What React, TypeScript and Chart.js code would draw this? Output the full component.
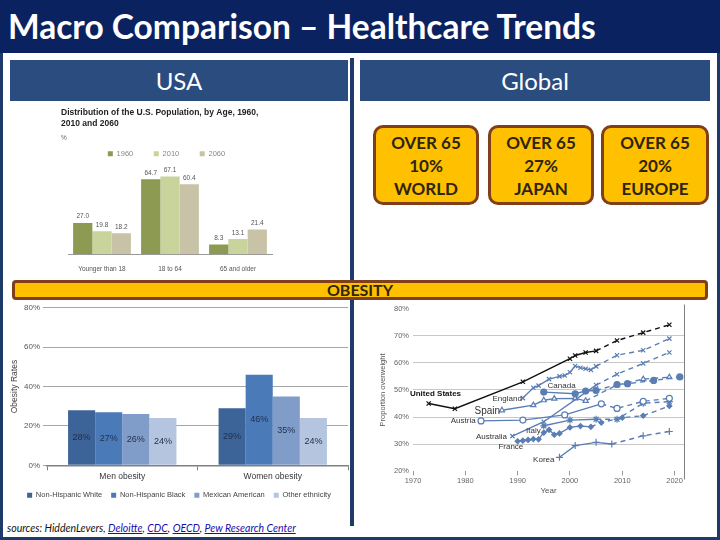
import React, { useEffect, useRef } from 'react';
import { Chart, registerables } from 'chart.js';
Chart.register(...registerables);

// ---------- Population by age (USA) ----------
const popCategories = ['Younger than 18', '18 to 64', '65 and older'];
const popSeriesNames = ['1960', '2010', '2060'];
const pop1960 = [27.0, 64.7, 8.3];
const pop2010 = [19.8, 67.1, 13.1];
const pop2060 = [18.2, 60.4, 21.4];

// ---------- Global boxes ----------
const boxHeads = ['OVER 65', 'OVER 65', 'OVER 65'];
const boxShares = ['10%', '27%', '20%'];
const boxRegions = ['WORLD', 'JAPAN', 'EUROPE'];

// ---------- Obesity by ethnicity (USA) ----------
const obCategories = ['Men obesity', 'Women obesity'];
const obSeriesNames = ['Non-Hispanic White', 'Non-Hispanic Black', 'Mexican American', 'Other ethnicity'];
const obWhite = [28, 29];
const obBlack = [27, 46];
const obMexican = [26, 35];
const obOther = [24, 24];

// ---------- Overweight projections (Global) ----------
const usYears = [1973, 1978, 1991, 2000, 2001, 2003, 2005, 2009, 2014, 2019];
const usValues = [45, 43.1, 53, 61.5, 62.7, 63.8, 64.4, 68.2, 71.1, 74.0];
const englandYears = [1991, 1993, 1994, 1996, 1998, 1999, 2000, 2001, 2002, 2003, 2004, 2005, 2009, 2014, 2019];
const englandValues = [47, 50.8, 51.6, 54, 55, 55.3, 56.5, 58.8, 58.2, 57.8, 57.4, 58.7, 62.8, 64.6, 68.9];
const australiaYears = [1989, 1995, 2005, 2009, 2014, 2019];
const australiaValues = [33, 38.3, 51.8, 55.8, 59.8, 63.8];
const canadaYears = [1995, 2001, 2003, 2005, 2009, 2011, 2016, 2021];
const canadaValues = [49.2, 48.6, 49.6, 49.8, 52, 52.3, 53.5, 54.8];
const spainYears = [1987, 1993, 1995, 1997, 2001, 2003, 2009, 2014, 2019];
const spainValues = [42.5, 44.4, 46.2, 46.8, 46.9, 46, 51.8, 54, 54.7];
const austriaYears = [1983, 1991, 1999, 2006, 2009, 2014, 2019];
const austriaValues = [38.6, 38.9, 40.8, 44.9, 43.2, 45.8, 46.9];
const italyYears = [1995, 2000, 2005, 2009, 2014, 2019];
const italyValues = [36.8, 38.9, 39.2, 39.2, 45.1, 45.7];
const franceYears = [1990, 1991, 1992, 1993, 1994, 1995, 1996, 1997, 1998, 2000, 2002, 2004, 2006, 2010, 2014, 2019];
const franceValues = [31.1, 31.3, 31.6, 31.9, 31.8, 34.3, 35.3, 33.5, 34, 36.2, 36.7, 36.4, 38, 39.8, 40.5, 44.1];
const koreaYears = [1998, 2001, 2005, 2008, 2014, 2019];
const koreaValues = [25.2, 29.5, 30.7, 30.1, 33.1, 34.7];

const owLabelNames = ['United States', 'England', 'Canada', 'Spain', 'Austria', 'Italy', 'Australia', 'France', 'Korea'];
const owLabelYears = [1974.3, 1988.0, 1998.4, 1984.2, 1979.6, 1993.0, 1985.0, 1988.7, 1995.0];
const owLabelValues = [48.5, 46.6, 51.4, 42.1, 38.6, 35.0, 32.8, 28.9, 24.2];

const FONT = 'Liberation Sans, Arial, sans-serif';
const NAVY = '#0B2260';
const FRAME = '#1E3A6A';
const HEAD = '#2A4C7E';
const ORANGE = '#FFC000';
const BROWN = '#7F3F1A';
const STEEL = '#5A7EB4';

export default function App() {
  const popRef = useRef<HTMLCanvasElement>(null);
  const obRef = useRef<HTMLCanvasElement>(null);
  const owRef = useRef<HTMLCanvasElement>(null);

  useEffect(() => {
    const charts: Chart[] = [];

    // Population chart
    const popLabels = {
      id: 'popLabels',
      afterDatasetsDraw(chart: any) {
        const ctx = chart.ctx;
        ctx.save();
        ctx.font = `6.5px ${FONT}`;
        ctx.fillStyle = '#555';
        ctx.textAlign = 'center';
        ctx.textBaseline = 'bottom';
        chart.data.datasets.forEach((ds: any, di: number) => {
          chart.getDatasetMeta(di).data.forEach((el: any, i: number) => {
            ctx.fillText(Number(ds.data[i]).toFixed(1), el.x, el.y - 3);
          });
        });
        ctx.restore();
      },
    };
    charts.push(
      new Chart(popRef.current!, {
        type: 'bar',
        data: {
          labels: popCategories,
          datasets: [
            { label: popSeriesNames[0], data: pop1960, backgroundColor: '#8C9A52' },
            { label: popSeriesNames[1], data: pop2010, backgroundColor: '#C9D39C' },
            { label: popSeriesNames[2], data: pop2060, backgroundColor: '#C8C3A6' },
          ],
        },
        options: {
          responsive: false,
          animation: false,
          layout: { padding: { left: 6, right: 5, top: 2, bottom: 0 } },
          plugins: {
            title: {
              display: true,
              align: 'start',
              text: ['Distribution of the U.S. Population, by Age, 1960,', '2010 and 2060'],
              font: { size: 8.5, weight: 'bold', family: FONT, lineHeight: 1.3 },
              color: '#222',
              padding: { top: 5, bottom: 5 },
            },
            subtitle: {
              display: true,
              align: 'start',
              text: '%',
              font: { size: 6.5, family: FONT },
              color: '#666',
              padding: { bottom: 0 },
            },
            legend: {
              labels: {
                boxWidth: 5,
                boxHeight: 5,
                font: { size: 7.5, family: FONT },
                color: '#888',
                padding: 8,
                generateLabels: (chart: any) => {
                  const base = Chart.defaults.plugins.legend.labels.generateLabels(chart);
                  return base.map((l: any, i: number) => ({ ...l, text: i < base.length - 1 ? l.text + '\u00a0\u00a0\u00a0\u00a0\u00a0\u00a0' : l.text }));
                },
              },
            },
            tooltip: { enabled: false },
          },
          datasets: { bar: { categoryPercentage: 0.85, barPercentage: 1 } },
          scales: {
            y: {
              display: true,
              min: 0,
              max: 75,
              afterFit: (s: any) => { s.width = 7; },
              ticks: { display: false },
              grid: { display: false },
              border: { display: false },
            },
            x: {
              grid: { display: false },
              border: { color: '#999' },
              ticks: { font: { size: 6.5, family: FONT }, color: '#555', padding: 3 },
            },
          },
        },
        plugins: [popLabels],
      })
    );

    // Obesity chart
    const obLabels = {
      id: 'obLabels',
      afterDatasetsDraw(chart: any) {
        const ctx = chart.ctx;
        ctx.save();
        ctx.font = `9px ${FONT}`;
        ctx.fillStyle = '#1F2E4A';
        ctx.textAlign = 'center';
        ctx.textBaseline = 'middle';
        chart.data.datasets.forEach((ds: any, di: number) => {
          chart.getDatasetMeta(di).data.forEach((el: any, i: number) => {
            ctx.fillText(ds.data[i] + '%', el.x, (el.y + el.base) / 2);
          });
        });
        ctx.restore();
      },
    };
    charts.push(
      new Chart(obRef.current!, {
        type: 'bar',
        data: {
          labels: obCategories,
          datasets: [
            { label: obSeriesNames[0], data: obWhite, backgroundColor: '#3D6498' },
            { label: obSeriesNames[1], data: obBlack, backgroundColor: '#4A7BB8' },
            { label: obSeriesNames[2], data: obMexican, backgroundColor: '#809DC9' },
            { label: obSeriesNames[3], data: obOther, backgroundColor: '#B5C4DF' },
          ],
        },
        options: {
          responsive: false,
          animation: false,
          layout: { padding: { top: 5, right: 2, left: 0, bottom: 0 } },
          datasets: { bar: { categoryPercentage: 0.72, barPercentage: 1 } },
          plugins: {
            legend: {
              position: 'bottom',
              labels: { boxWidth: 5, boxHeight: 5, font: { size: 7.5, family: FONT }, color: '#444', padding: 9 },
            },
            tooltip: { enabled: false },
          },
          scales: {
            y: {
              min: 0,
              max: 80,
              afterFit: (s: any) => { s.width = 37; },
              ticks: { stepSize: 20, callback: (v: any) => v + '%', font: { size: 8, family: FONT }, color: '#555', padding: 3 },
              grid: { color: '#A6A6A6', tickLength: 4 },
              border: { display: false },
              title: { display: true, text: 'Obesity Rates', font: { size: 8.5, family: FONT }, color: '#444', padding: 0 },
            },
            x: {
              grid: { drawOnChartArea: false, tickLength: 5, color: '#808080', offset: true },
              border: { color: '#808080', width: 1.5 },
              ticks: { font: { size: 8.5, family: FONT }, color: '#333', padding: 1 },
            },
          },
        },
        plugins: [obLabels],
      })
    );

    // Overweight projections
    const mk = (name: string, years: number[], values: number[], proj: number, style: string, color: string, fill: boolean, radius: number) => ({
      label: name,
      data: years.map((x, i) => ({ x, y: values[i] })),
      borderColor: color,
      backgroundColor: fill ? color : '#ffffff',
      pointBackgroundColor: fill ? color : '#ffffff',
      pointBorderColor: color,
      pointStyle: style,
      pointRadius: radius,
      pointBorderWidth: 1.2,
      borderWidth: 1.4,
      tension: 0,
      segment: { borderDash: (c: any) => (c.p0.parsed.x >= proj ? [5, 4] : undefined) },
    });
    const owExtras = {
      id: 'owExtras',
      afterDraw(chart: any) {
        const { ctx, chartArea, scales } = chart;
        ctx.save();
        ctx.strokeStyle = '#808080';
        ctx.lineWidth = 1;
        ctx.beginPath();
        ctx.moveTo(chartArea.right + 0.5, chartArea.top - 4);
        ctx.lineTo(chartArea.right + 0.5, chartArea.bottom + 8);
        ctx.stroke();
        ctx.textAlign = 'center';
        ctx.textBaseline = 'middle';
        owLabelNames.forEach((n, i) => {
          const big = n === 'Spain';
          const us = n === 'United States';
          ctx.font = `${us ? 'bold ' : ''}${big ? 10 : 8}px ${FONT}`;
          ctx.fillStyle = us ? '#111' : '#333';
          ctx.fillText(n, scales.x.getPixelForValue(owLabelYears[i]), scales.y.getPixelForValue(owLabelValues[i]));
        });
        ctx.restore();
      },
    };
    charts.push(
      new Chart(owRef.current!, {
        type: 'line',
        data: {
          datasets: [
            mk('United States', usYears, usValues, 2005, 'crossRot', '#111111', true, 3),
            mk('England', englandYears, englandValues, 2005, 'crossRot', STEEL, true, 3),
            mk('Australia', australiaYears, australiaValues, 2005, 'crossRot', STEEL, true, 3),
            mk('Canada', canadaYears, canadaValues, 2005, 'circle', STEEL, true, 3),
            mk('Spain', spainYears, spainValues, 2003, 'triangle', STEEL, false, 3),
            mk('Austria', austriaYears, austriaValues, 2006, 'circle', STEEL, false, 3),
            mk('Italy', italyYears, italyValues, 2005, 'star', STEEL, true, 3.5),
            mk('France', franceYears, franceValues, 2004, 'rectRot', STEEL, true, 2.5),
            mk('Korea', koreaYears, koreaValues, 2008, 'cross', STEEL, true, 3.5),
          ],
        },
        options: {
          responsive: false,
          animation: false,
          layout: { padding: { top: 4, right: 28, left: 16, bottom: 0 } },
          plugins: { legend: { display: false }, tooltip: { enabled: false } },
          scales: {
            x: {
              type: 'linear',
              min: 1970,
              max: 2021.8,
              ticks: { stepSize: 10, includeBounds: false, callback: (v: any) => String(v), font: { size: 7.5, family: FONT }, color: '#666', padding: 1 },
              grid: { drawOnChartArea: false, tickLength: 4, color: '#999' },
              border: { display: false },
              title: { display: true, text: 'Year', font: { size: 8, family: FONT }, color: '#555', padding: 0 },
            },
            y: {
              min: 20,
              max: 80,
              afterFit: (s: any) => { s.width = 37; },
              ticks: { stepSize: 10, callback: (v: any) => v + '%', font: { size: 7.5, family: FONT }, color: '#666', padding: 4 },
              grid: {
                drawTicks: false,
                color: (c: any) => (c.tick && (c.tick.value === 20 || c.tick.value === 80) ? 'rgba(0,0,0,0)' : '#C8C8C8'),
              },
              border: { display: false },
              title: { display: true, text: 'Proportion overweight', font: { size: 7.5, family: FONT }, color: '#555', padding: 2 },
            },
          },
        },
        plugins: [owExtras],
      })
    );

    return () => charts.forEach((c) => c.destroy());
  }, []);

  const abs = (l: number, t: number, w: number, h: number): React.CSSProperties => ({ position: 'absolute', left: l, top: t, width: w, height: h });
  const boxLefts = [373, 488, 601];
  const boxWidths = [106, 106, 108];

  return (
    <div style={{ position: 'fixed', left: 0, top: 0, width: 720, height: 540, background: '#fff', overflow: 'hidden', fontFamily: 'Lato, sans-serif' }}>
      <div style={{ ...abs(0, 0, 720, 540), boxSizing: 'border-box', border: `3px solid ${FRAME}` }} />
      <div style={{ ...abs(0, 0, 720, 53), background: NAVY, color: '#fff', fontSize: 33.5, fontWeight: 700, lineHeight: '53px', paddingLeft: 8, boxSizing: 'border-box', whiteSpace: 'nowrap' }}>
        Macro Comparison – Healthcare Trends
      </div>
      <div style={{ ...abs(10, 60, 338, 41), background: HEAD, color: '#fff', fontSize: 24, lineHeight: '41px', textAlign: 'center' }}>USA</div>
      <div style={{ ...abs(360, 60, 350, 41), background: HEAD, color: '#fff', fontSize: 24, lineHeight: '41px', textAlign: 'center' }}>Global</div>
      <div style={{ ...abs(350, 58, 4, 468), background: FRAME }} />

      <canvas ref={popRef} width={222} height={176} style={{ position: 'absolute', left: 55, top: 100 }} />

      {boxLefts.map((l, i) => (
        <div key={i} style={{ ...abs(l, 125, boxWidths[i], 80), boxSizing: 'border-box', background: ORANGE, border: `3px solid ${BROWN}`, borderRadius: 10, color: '#2E2410', fontWeight: 700, fontSize: 17, lineHeight: '23px', textAlign: 'center', paddingTop: 3 }}>
          <div>{boxHeads[i]}</div>
          <div>{boxShares[i]}</div>
          <div>{boxRegions[i]}</div>
        </div>
      ))}

      <canvas ref={obRef} width={340} height={209} style={{ position: 'absolute', left: 10, top: 300 }} />
      <canvas ref={owRef} width={352} height={196} style={{ position: 'absolute', left: 360, top: 300 }} />

      <div style={{ ...abs(12, 280, 696, 20), boxSizing: 'border-box', background: ORANGE, border: `3px solid ${BROWN}`, borderRadius: 4, color: '#2E2410', fontWeight: 700, fontSize: 16, lineHeight: '14px', textAlign: 'center' }}>OBESITY</div>

      <div style={{ position: 'absolute', left: 7, top: 522, fontStyle: 'italic', fontSize: 10.5, color: '#111', whiteSpace: 'nowrap' }}>
        sources: HiddenLevers, <a href="#" style={{ color: '#1a0dab' }}>Deloitte</a>, <a href="#" style={{ color: '#1a0dab' }}>CDC</a>, <a href="#" style={{ color: '#1a0dab' }}>OECD</a>, <a href="#" style={{ color: '#1a0dab' }}>Pew Research Center</a>
      </div>
    </div>
  );
}
